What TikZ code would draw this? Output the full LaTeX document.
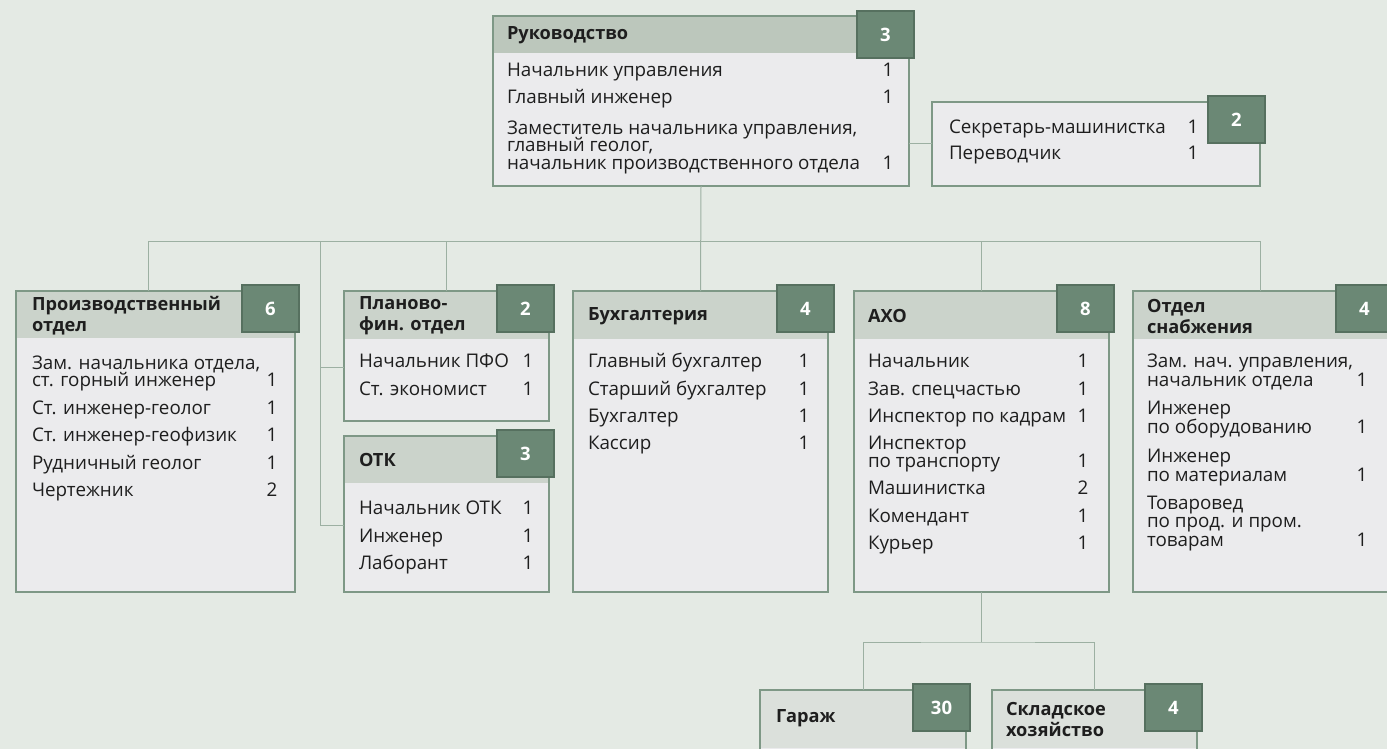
\documentclass[tikz,border=0pt]{standalone}
\usepackage{fontspec}
\setmainfont{Open Sans}

\definecolor{bggreen}{HTML}{E4EAE4}
\definecolor{bodygray}{HTML}{EBEBED}
\definecolor{headgreen}{HTML}{CBD3CB}
\definecolor{tophead}{HTML}{BCC7BC}
\definecolor{lowhead}{HTML}{DBE0DB}
\definecolor{badgegreen}{HTML}{6B8875}
\definecolor{badgeline}{HTML}{56705F}
\definecolor{framecol}{HTML}{7E9886}
\definecolor{wirecol}{HTML}{9CB0A2}
\definecolor{ink}{HTML}{1E1E1E}

\begin{document}
\begin{tikzpicture}[x=1pt, y=-1pt, font=\fontsize{18.8}{18}\selectfont, text=ink,
    unit/.style 2 args={draw=framecol, fill=bodygray, line width=1.2pt, anchor=north west,
      path picture={\fill[#2] (path picture bounding box.north west) rectangle ([yshift=-#1]path picture bounding box.north east);}}]
        \tikzstyle{every node}=[inner sep=0pt, outer sep=0pt]
        \tikzstyle{badge}=[draw=badgeline, fill=badgegreen, line width=1.2pt, anchor=north west, minimum width=57pt, minimum height=47pt, text=white, font=\fontsize{18.5}{18}\selectfont\bfseries]
        \tikzstyle{title}=[anchor=west, align=left, font=\fontsize{18.2}{21}\selectfont\bfseries]
        \tikzstyle{row}=[anchor=west, text height=13pt, text depth=4pt]
        \tikzstyle{num}=[anchor=center, text height=13pt, text depth=4pt]
        \tikzstyle{wire}=[draw=wirecol, line width=1pt]
        \useasboundingbox (0,0) rectangle (1387,749);
        \clip (0,0) rectangle (1387,749);
        \fill[bggreen] (0,0) rectangle (1387,749);

        % Руководство
        \node[unit={37pt}{tophead}, minimum width=416pt, minimum height=170pt] (ruk) at (493,16) {};
        \node[badge] (ruk-b) at (857,11) {3};
        \node[title] (ruk-t) at (507,35) {Руководство};
        \foreach \y/\t in {72/Начальник управления, 99/Главный инженер, 130/{Заместитель начальника управления,}, 147/{главный геолог,}, 165/начальник производственного отдела}
            \node[row] (ruk-r\y) at (507,\y) {\t};
        \foreach \y/\n in {72/1, 99/1, 165/1}
            \node[num] (ruk-n\y) at (888,\y) {\n};

        % секретарь
        \node[unit={0pt}{bodygray}, minimum width=328pt, minimum height=84pt] (sec) at (932,102) {};
        \node[badge] (sec-b) at (1208,96) {2};
        \foreach \y/\t/\n in {129/Секретарь-машинистка/1, 155/Переводчик/1} {
            \node[row] (sec-r\y) at (949,\y) {\t};
            \node[num] (sec-n\y) at (1193,\y) {\n};
        }

        % Производственный отдел
        \node[unit={47pt}{headgreen}, minimum width=279pt, minimum height=301pt] (proiz) at (16,291) {};
        \node[badge] (proiz-b) at (242,285) {6};
        \node[title] (proiz-t) at (32,316) {Производственный\\отдел};
        \foreach \y/\t in {365/{Зам. начальника отдела,}, 382/ст. горный инженер, 410/Ст. инженер-геолог, 437/Ст. инженер-геофизик, 465/Рудничный геолог, 492/Чертежник}
            \node[row] (proiz-r\y) at (32,\y) {\t};
        \foreach \y/\n in {382/1, 410/1, 437/1, 465/1, 492/2}
            \node[num] (proiz-n\y) at (272,\y) {\n};

        % Планово-фин. отдел
        \node[unit={48pt}{headgreen}, minimum width=205pt, minimum height=130pt] (plan) at (344,291) {};
        \node[badge] (plan-b) at (497,285) {2};
        \node[title] (plan-t) at (359,316) {Планово-\\фин. отдел};
        \foreach \y/\t/\n in {363/Начальник ПФО/1, 391/Ст. экономист/1} {
            \node[row] (plan-r\y) at (359,\y) {\t};
            \node[num] (plan-n\y) at (528,\y) {\n};
        }

        % ОТК
        \node[unit={47pt}{headgreen}, minimum width=205pt, minimum height=156pt] (otk) at (344,436) {};
        \node[badge] (otk-b) at (497,430) {3};
        \node[title] (otk-t) at (359,460) {ОТК};
        \foreach \y/\t/\n in {510/Начальник ОТК/1, 538/Инженер/1, 565/Лаборант/1} {
            \node[row] (otk-r\y) at (359,\y) {\t};
            \node[num] (otk-n\y) at (528,\y) {\n};
        }

        % Бухгалтерия
        \node[unit={48pt}{headgreen}, minimum width=255pt, minimum height=301pt] (buh) at (573,291) {};
        \node[badge] (buh-b) at (777,285) {4};
        \node[title] (buh-t) at (588,316) {Бухгалтерия};
        \foreach \y/\t/\n in {363/Главный бухгалтер/1, 391/Старший бухгалтер/1, 418/Бухгалтер/1, 445/Кассир/1} {
            \node[row] (buh-r\y) at (588,\y) {\t};
            \node[num] (buh-n\y) at (804,\y) {\n};
        }

        % АХО
        \node[unit={48pt}{headgreen}, minimum width=255pt, minimum height=301pt] (axo) at (854,291) {};
        \node[badge] (axo-b) at (1057,285) {8};
        \node[title] (axo-t) at (868,316) {АХО};
        \foreach \y/\t in {363/Начальник, 391/Зав. спецчастью, 418/Инспектор по кадрам, 445/Инспектор, 463/по транспорту, 490/Машинистка, 518/Комендант, 545/Курьер}
            \node[row] (axo-r\y) at (868,\y) {\t};
        \foreach \y/\n in {363/1, 391/1, 418/1, 463/1, 490/2, 518/1, 545/1}
            \node[num] (axo-n\y) at (1083,\y) {\n};

        % Отдел снабжения
        \node[unit={48pt}{headgreen}, minimum width=255pt, minimum height=301pt] (snab) at (1133,291) {};
        \node[badge] (snab-b) at (1336,285) {4};
        \node[title] (snab-t) at (1147,316) {Отдел\\снабжения};
        \foreach \y/\t in {363/{Зам. нач. управления,}, 382/начальник отдела, 410/Инженер, 429/по оборудованию, 458/Инженер, 477/по материалам, 505/Товаровед, 523/по прод. и пром., 542/товарам}
            \node[row] (snab-r\y) at (1147,\y) {\t};
        \foreach \y/\n in {382/1, 429/1, 477/1, 542/1}
            \node[num] (snab-n\y) at (1362,\y) {\n};

        % Гараж, Складское хозяйство
        \node[unit={58pt}{lowhead}, minimum width=206pt, minimum height=80pt] (gar) at (760,690) {};
        \node[badge] (gar-b) at (913,684) {30};
        \node[title] (gar-t) at (776,718) {Гараж};
        \node[unit={58pt}{lowhead}, minimum width=205pt, minimum height=80pt] (skl) at (992,690) {};
        \node[badge] (skl-b) at (1145,684) {4};
        \node[title] (skl-t) at (1006,719) {Складское\\хозяйство};

        % connectors
        \coordinate (barL) at (148,241);
        \coordinate (side) at (320,241);
        \coordinate (lowbar) at (977,642);
        \coordinate (planin) at ([yshift=-11pt]plan.west);
        \coordinate (otkin) at ([yshift=-11pt]otk.west);
        \draw[wire] (sec.west) -- (sec.west -| ruk.east);
        \draw[wire] (ruk.south) -- (buh.north);
        \draw[wire] (barL |- proiz.north) -- (barL) -- (barL -| snab.north) -- (snab.north);
        \draw[wire] (plan.north) -- (plan.north |- barL);
        \draw[wire] (axo.north) -- (axo.north |- barL);
        \draw[wire] (side) |- (otkin);
        \draw[wire] (planin) -- (side |- planin);
        \draw[wire] (axo.south |- lowbar) -- (axo.south);
        \draw[wire] (gar.north) |- (lowbar) -| (skl.north);
\end{tikzpicture}
\end{document}
